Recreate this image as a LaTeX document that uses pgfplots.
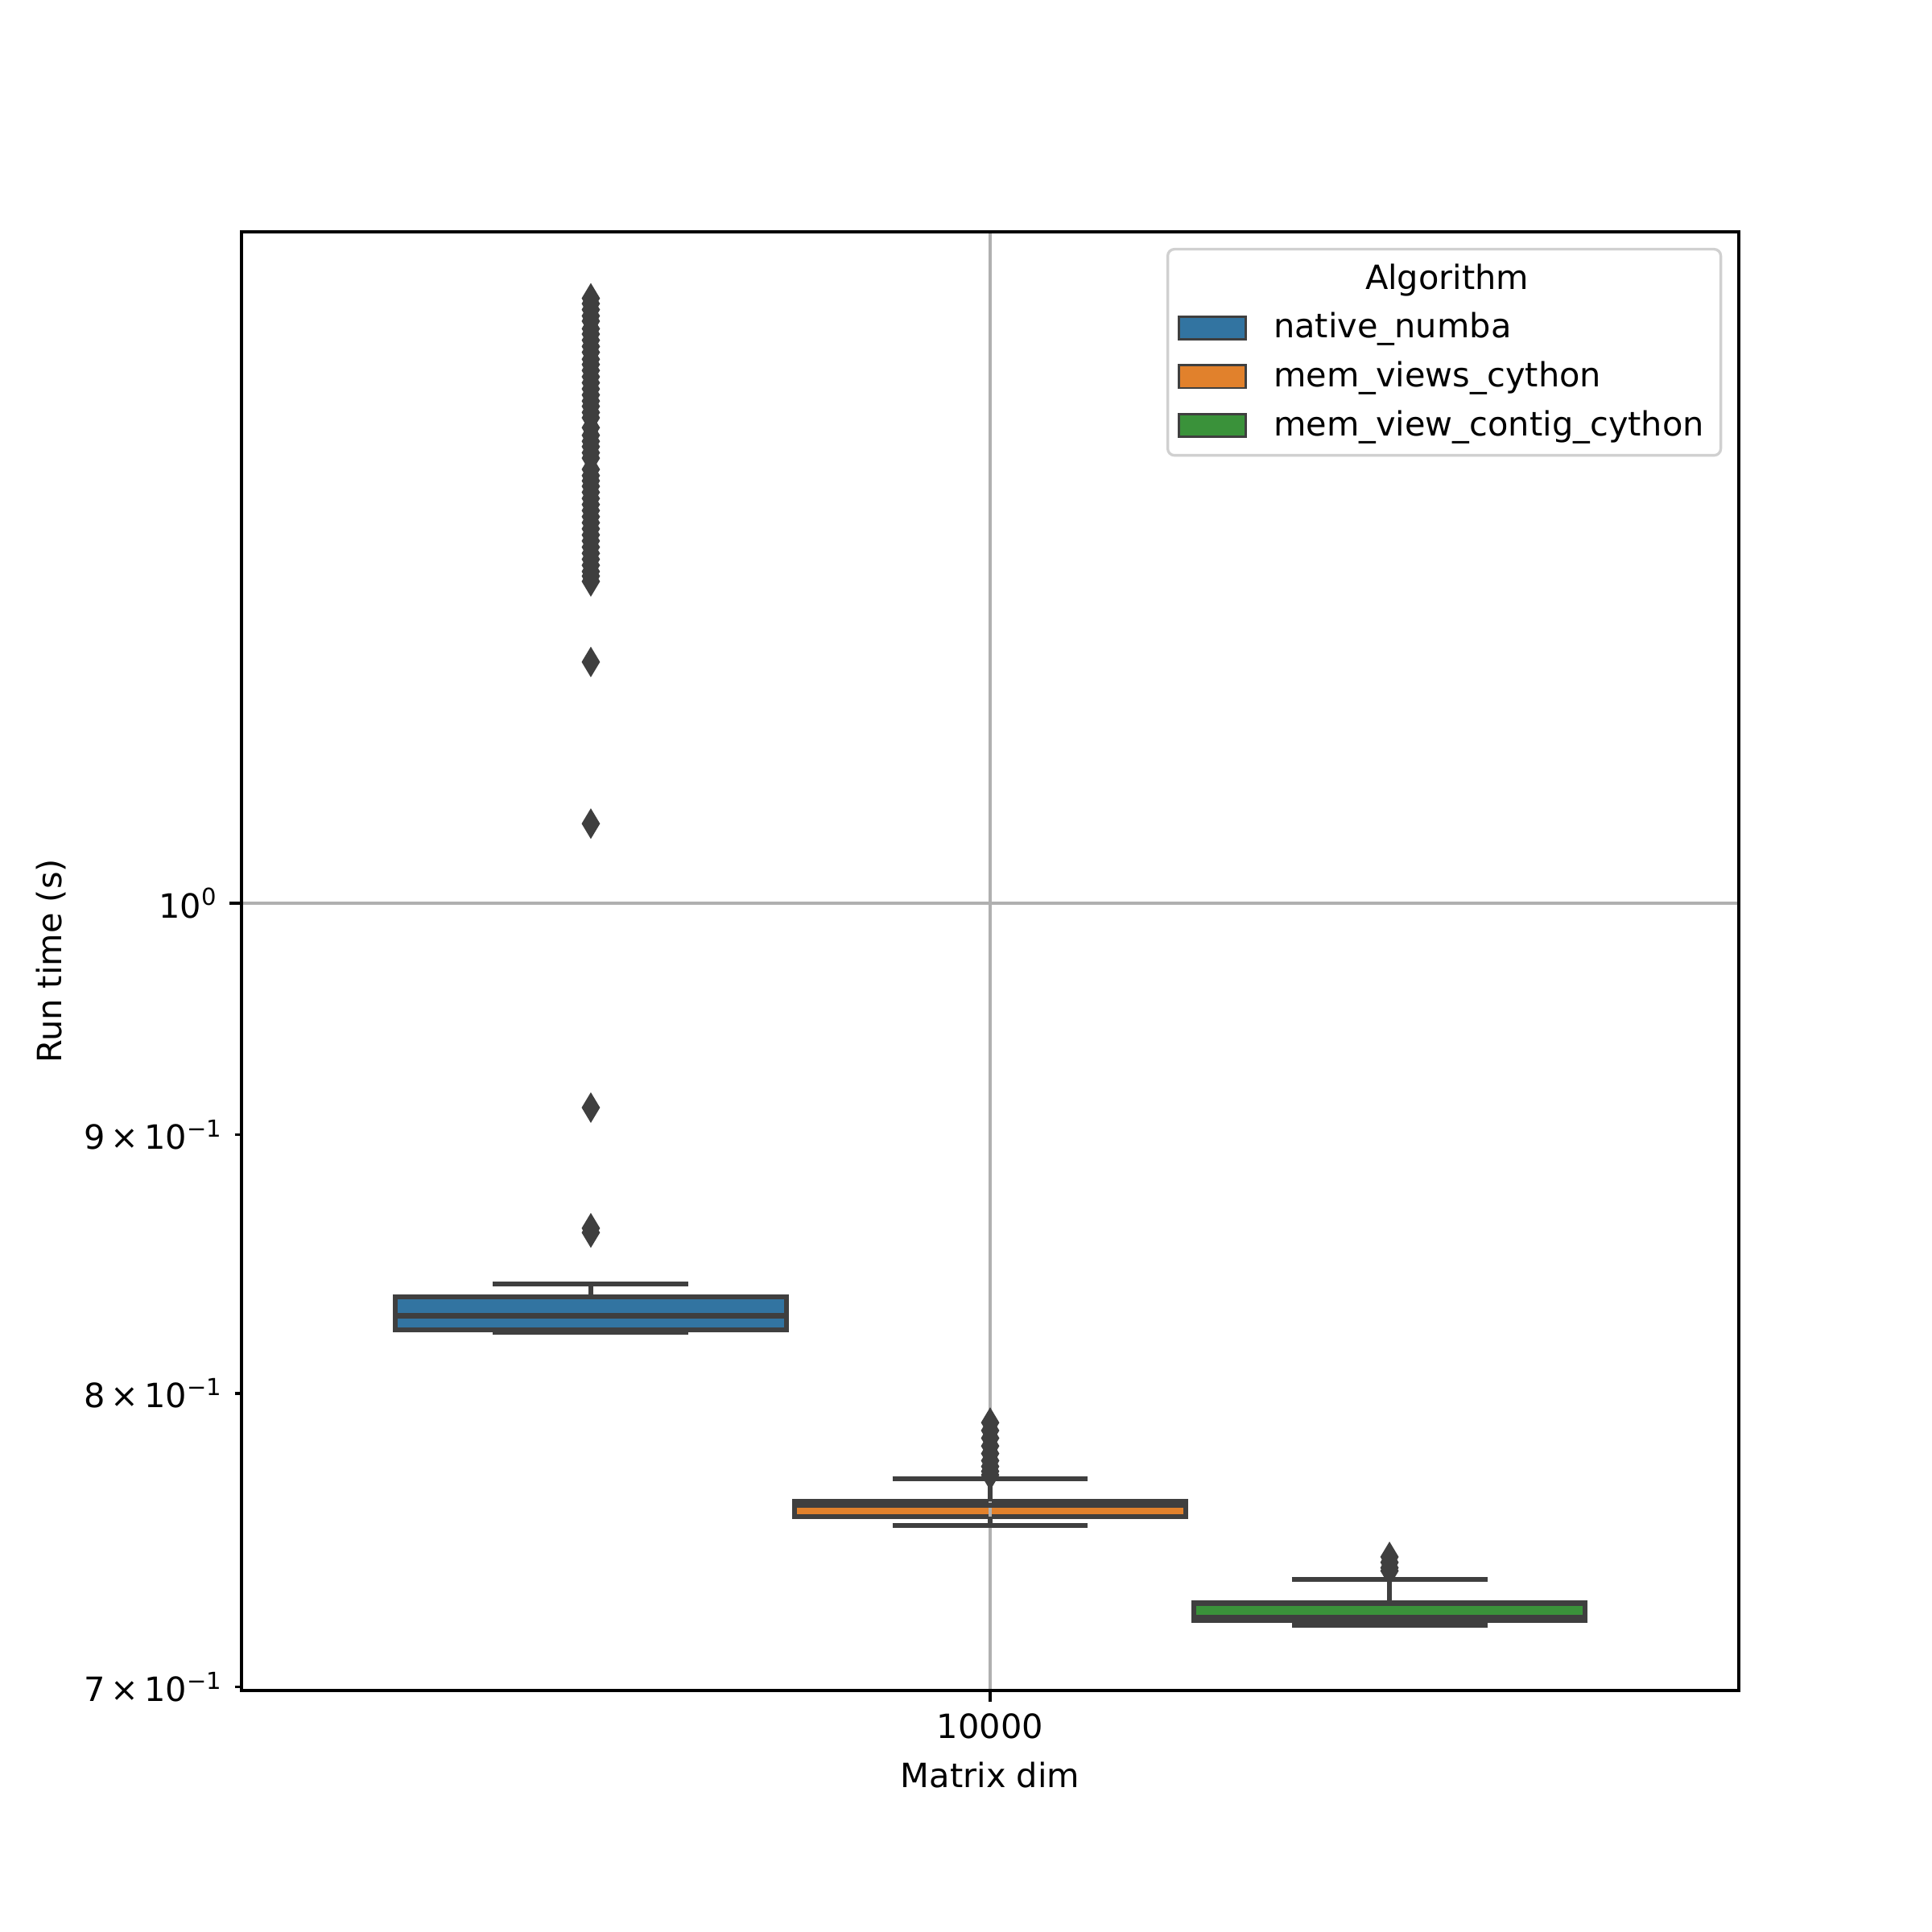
\documentclass[border=0pt]{standalone}
\usepackage{fontspec}
\setmainfont{DejaVu Sans}
\usepackage{pgfplots}
\pgfplotsset{compat=1.18}

\definecolor{cnumba}{HTML}{3274A1}
\definecolor{cviews}{HTML}{E1812C}
\definecolor{ccontig}{HTML}{3A923A}
\definecolor{edge}{HTML}{3F3F3F}
\definecolor{gridc}{HTML}{B0B0B0}
\definecolor{legedge}{HTML}{D0D0D0}

\pgfplotsset{
  boxline/.style={forget plot, draw=edge, line width=1.5pt},
  boxface/.style={boxline, on layer=axis background},
  flier/.style={forget plot, only marks, mark=diamond*, mark size=4.1pt,
    mark options={fill=edge, draw=edge, line width=0.5pt, xscale=0.8}},
}

\begin{document}
\begin{tikzpicture}
\begin{axis}[
  set layers,
  at={(0,0)}, anchor=south west,
  scale only axis,
  width=6.2in, height=6.04in,
  xmin=-0.5, xmax=0.5,
  ymode=log,
  ymin=0.6989, ymax=1.3575,
  xtick={0}, xticklabels={10000},
  ytick={1}, yticklabels={10\textsuperscript{0}},
  extra y ticks={0.7,0.8,0.9},
  extra y tick labels={7\,×\,10\textsuperscript{−1},8\,×\,10\textsuperscript{−1},9\,×\,10\textsuperscript{−1}},
  extra y tick style={grid=none, major tick length=2pt},
  minor y tick num=0,
  tick align=outside,
  tick pos=left,
  major tick length=3.5pt,
  every tick/.style={line width=0.8pt, black},
  axis line style={line width=0.8pt},
  grid=major,
  major grid style={line width=0.8pt, gridc},
  /pgf/number format/assume math mode=true,
  tick label style={font=\fontsize{10}{12}\selectfont},
  label style={font=\fontsize{10}{12}\selectfont},
  xlabel={Matrix dim},
  ylabel={Run time (s)},
  ylabel shift=-5pt,
  legend style={at={(1,1)}, anchor=north east, xshift=-5pt, yshift=-4.8pt,
    draw=legedge, rounded corners=2pt, line width=0.8pt,
    font=\fontsize{10}{12}\selectfont,
    row sep=1.5pt, inner xsep=3pt, inner ysep=2.4pt,
    /tikz/every odd column/.append style={column sep=6pt}},
  legend cell align=left,
  legend image code/.code={\draw[#1, sharp corners, line width=0.7pt] (0pt,-3.4pt) rectangle (20pt,3.4pt);},
]

% native_numba: box, median, whiskers, caps, fliers
\addplot[boxface, fill=cnumba] coordinates {(-0.3972,0.8235) (-0.1362,0.8235) (-0.1362,0.8360) (-0.3972,0.8360)} -- cycle;
\addplot[boxline] coordinates {(-0.2667,0.8360) (-0.2667,0.8409)};
\addplot[boxline] coordinates {(-0.2667,0.8235) (-0.2667,0.8226)};
\addplot[boxline] coordinates {(-0.3320,0.8409) (-0.2014,0.8409)};
\addplot[boxline] coordinates {(-0.3320,0.8226) (-0.2014,0.8226)};
\addplot[boxline] coordinates {(-0.3972,0.8288) (-0.1362,0.8288)};
\addplot[flier] coordinates {
(-0.2667,1.3170) (-0.2667,1.3138) (-0.2667,1.3102) (-0.2667,1.3065) (-0.2667,1.3034)
(-0.2667,1.2989) (-0.2667,1.2957) (-0.2667,1.2921) (-0.2667,1.2885) (-0.2667,1.2850)
(-0.2667,1.2810) (-0.2667,1.2779) (-0.2667,1.2744) (-0.2667,1.2708) (-0.2667,1.2673)
(-0.2667,1.2638) (-0.2667,1.2603) (-0.2667,1.2568) (-0.2667,1.2538) (-0.2667,1.2503)
(-0.2667,1.2473) (-0.2667,1.2417) (-0.2667,1.2374) (-0.2667,1.2340) (-0.2667,1.2310)
(-0.2667,1.2276) (-0.2667,1.2246) (-0.2667,1.2183) (-0.2667,1.2149) (-0.2667,1.2120)
(-0.2667,1.2090) (-0.2667,1.2057) (-0.2667,1.2023) (-0.2667,1.1990) (-0.2667,1.1957)
(-0.2667,1.1924) (-0.2667,1.1891) (-0.2667,1.1858) (-0.2667,1.1825) (-0.2667,1.1793)
(-0.2667,1.1760) (-0.2667,1.1727) (-0.2667,1.1695) (-0.2667,1.1663) (-0.2667,1.1630)
(-0.2667,1.1606) (-0.2667,1.1578)
(-0.2667,1.1161) (-0.2667,1.0369) (-0.2667,0.9112) (-0.2667,0.8625) (-0.2667,0.8608)
};

% mem_views_cython
\addplot[boxface, fill=cviews] coordinates {(-0.1305,0.7565) (0.1305,0.7565) (0.1305,0.7618) (-0.1305,0.7618)} -- cycle;
\addplot[boxline] coordinates {(0,0.7618) (0,0.7697)};
\addplot[boxline] coordinates {(0,0.7565) (0,0.7535)};
\addplot[boxline] coordinates {(-0.0653,0.7697) (0.0653,0.7697)};
\addplot[boxline] coordinates {(-0.0653,0.7535) (0.0653,0.7535)};
\addplot[boxline] coordinates {(-0.1305,0.7604) (0.1305,0.7604)};
\addplot[flier] coordinates {
(0,0.7896) (0,0.7868) (0,0.7840) (0,0.7812) (0,0.7785) (0,0.7760) (0,0.7740) (0,0.7722) (0,0.7710)
};

% mem_view_contig_cython
\addplot[boxface, fill=ccontig] coordinates {(0.1362,0.7215) (0.3972,0.7215) (0.3972,0.7273) (0.1362,0.7273)} -- cycle;
\addplot[boxline] coordinates {(0.2667,0.7273) (0.2667,0.7351)};
\addplot[boxline] coordinates {(0.2667,0.7215) (0.2667,0.7201)};
\addplot[boxline] coordinates {(0.2014,0.7351) (0.3320,0.7351)};
\addplot[boxline] coordinates {(0.2014,0.7201) (0.3320,0.7201)};
\addplot[boxline] coordinates {(0.1362,0.7225) (0.3972,0.7225)};
\addplot[flier] coordinates {
(0.2667,0.7427) (0.2667,0.7409) (0.2667,0.7391) (0.2667,0.7380)
};

\addlegendimage{empty legend}
\addlegendentry{\makebox[0pt][c]{\hspace{103.8pt}Algorithm}}
\addlegendimage{fill=cnumba, draw=edge}
\addlegendentry{native\_numba}
\addlegendimage{fill=cviews, draw=edge}
\addlegendentry{mem\_views\_cython}
\addlegendimage{fill=ccontig, draw=edge}
\addlegendentry{mem\_view\_contig\_cython}
\end{axis}
\path (-1in,-1in) rectangle (7in,7in);
\end{tikzpicture}
\end{document}
